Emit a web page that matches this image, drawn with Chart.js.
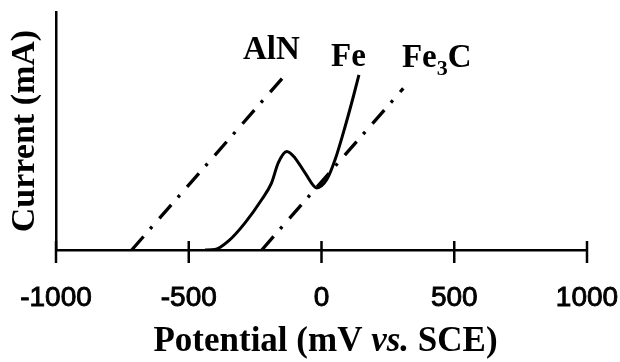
<!DOCTYPE html>
<html>
<head>
<meta charset="utf-8">
<script src="https://cdn.jsdelivr.net/npm/chart.js@4.4.1/dist/chart.umd.min.js"></script>
<style>
  html, body { margin: 0; padding: 0; background: #fff; }
  #wrap { width: 620px; height: 362px; }
</style>
</head>
<body>
<div id="wrap"><canvas id="polChart" width="620" height="362"></canvas></div>
<script>
// potentials in mV vs. SCE, current in arbitrary units (0-100)
const alnPotential = [-715, -144];
const alnCurrent = [0, 72.6];

const fe3cPotential = [-225, 308];
const fe3cCurrent = [0, 67.9];

const fePotential = [-439, -401, -351, -288, -225, -188, -163, -131, -100, -62, -18, 20, 51, 89, 120, 141];
const feCurrent = [0, 0.2, 3.7, 11.4, 21.2, 28.2, 36.6, 41.4, 38.7, 32.4, 26.1, 29.6, 37.9, 51.9, 64.5, 73.6];

const xTicks = [-1000, -500, 0, 500, 1000];

const toPoints = (xs, ys) => xs.map((x, i) => ({ x: x, y: ys[i] }));

const serif = "'Liberation Serif', 'Times New Roman', serif";
const sans = "'Liberation Sans', Arial, sans-serif";
const dashDot = [18, 10, 3, 11];

// crossing tick marks, series labels and the x title with italic "vs."
const extras = {
  id: 'extras',
  afterDraw(chart) {
    const c = chart.ctx;
    const xs = chart.scales.x;
    const ys = chart.scales.y;
    const axisY = ys.getPixelForValue(0);

    c.save();
    c.strokeStyle = '#000';
    c.lineWidth = 2.5;
    xTicks.forEach(v => {
      const px = xs.getPixelForValue(v);
      c.beginPath();
      c.moveTo(px, axisY - 9);
      c.lineTo(px, axisY + 13);
      c.stroke();
    });

    c.fillStyle = '#000';
    c.textBaseline = 'alphabetic';
    c.textAlign = 'left';
    c.font = 'bold 33px ' + serif;
    c.fillText('AlN', xs.getPixelForValue(-296), ys.getPixelForValue(80.1));
    c.fillText('Fe', xs.getPixelForValue(36), ys.getPixelForValue(77.4));
    const fx = xs.getPixelForValue(303);
    const fy = ys.getPixelForValue(76.9);
    c.fillText('Fe', fx, fy);
    let w = c.measureText('Fe').width;
    c.font = 'bold 22px ' + serif;
    c.fillText('3', fx + w, fy + 8);
    w += c.measureText('3').width;
    c.font = 'bold 33px ' + serif;
    c.fillText('C', fx + w, fy);

    // x axis title
    const parts = [
      { t: 'Potential (mV ', f: 'bold 35px ' + serif },
      { t: 'vs.', f: 'italic bold 35px ' + serif },
      { t: ' SCE)', f: 'bold 35px ' + serif }
    ];
    let total = 0;
    parts.forEach(p => { c.font = p.f; p.w = c.measureText(p.t).width; total += p.w; });
    let tx = (xs.left + xs.right) / 2 - total / 2 + 4;
    parts.forEach(p => {
      c.font = p.f;
      c.fillText(p.t, tx, 351);
      tx += p.w;
    });
    c.restore();
  }
};

new Chart(document.getElementById('polChart'), {
  type: 'line',
  data: {
    datasets: [
      {
        label: 'AlN',
        data: toPoints(alnPotential, alnCurrent),
        borderColor: '#000',
        borderWidth: 3.3,
        borderDash: dashDot,
        pointRadius: 0
      },
      {
        label: 'Fe',
        data: toPoints(fePotential, feCurrent),
        borderColor: '#000',
        borderWidth: 3,
        cubicInterpolationMode: 'monotone',
        pointRadius: 0
      },
      {
        label: 'Fe3C',
        data: toPoints(fe3cPotential, fe3cCurrent),
        borderColor: '#000',
        borderWidth: 3.3,
        borderDash: dashDot,
        pointRadius: 0
      }
    ]
  },
  options: {
    responsive: false,
    animation: false,
    layout: { padding: { left: 0, right: 33, top: 12, bottom: 0 } },
    plugins: {
      legend: { display: false },
      tooltip: { enabled: false }
    },
    scales: {
      x: {
        type: 'linear',
        min: -1000,
        max: 1000,
        afterFit: s => { s.height = 112; },
        afterBuildTicks: s => { s.ticks = xTicks.map(v => ({ value: v })); },
        grid: { display: false, drawTicks: true, tickLength: 31 },
        border: { display: true, color: '#000', width: 2.5 },
        ticks: {
          color: '#000',
          padding: 0,
          maxRotation: 0,
          textStrokeColor: '#000',
          textStrokeWidth: 0.9,
          callback: v => String(v),
          font: { family: sans, size: 28 }
        }
      },
      y: {
        type: 'linear',
        min: 0,
        max: 100,
        afterFit: s => { s.width = 56; },
        grid: { display: false, drawTicks: false },
        border: { display: true, color: '#000', width: 2.5 },
        ticks: { display: false },
        title: {
          display: true,
          text: 'Current (mA)',
          color: '#000',
          padding: { top: 5, bottom: 0 },
          font: { family: serif, size: 34, weight: 'bold' }
        }
      }
    }
  },
  plugins: [extras]
});
</script>
</body>
</html>
